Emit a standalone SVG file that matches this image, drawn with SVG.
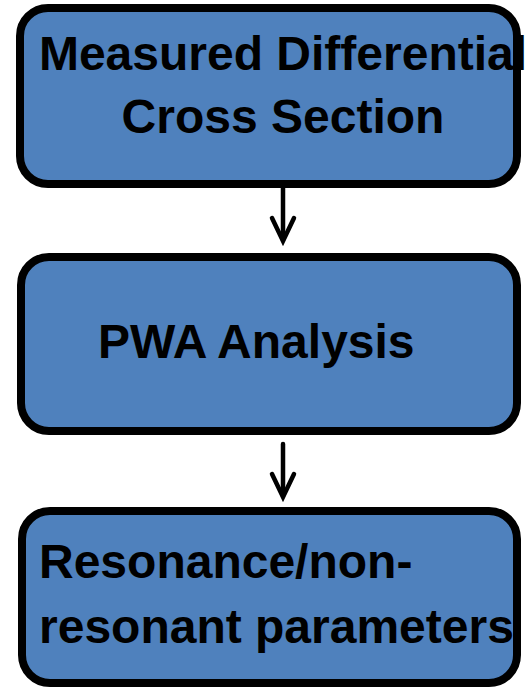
<svg xmlns="http://www.w3.org/2000/svg" width="529" height="688" viewBox="0 0 529 688">
<style>
.box{fill:#4F81BD;stroke:#000;stroke-width:8}
.t{font-family:"Liberation Sans",Arial,sans-serif;font-weight:bold;font-size:48px;fill:#000}
.c{fill:none;stroke:#000;stroke-width:4.5;stroke-linecap:round;stroke-linejoin:miter}
</style>
<rect width="529" height="688" fill="#fff"/>
<g id="connectors">
<line class="c" x1="283" y1="188" x2="283" y2="240"/>
<polyline class="c" points="272,218 283,241 294,218"/>
<line class="c" x1="283" y1="444" x2="283" y2="496"/>
<polyline class="c" points="272,474 283,497 294,474"/>
</g>
<g id="node1">
<rect class="box" x="20" y="8" width="497" height="176" rx="28"/>
<text class="t" x="283" y="70" text-anchor="middle">Measured Differential</text>
<text class="t" x="283" y="133" text-anchor="middle">Cross Section</text>
</g>
<g id="node2">
<rect class="box" x="21" y="257" width="496" height="174" rx="28"/>
<text class="t" x="98" y="358">PWA Analysis</text>
</g>
<g id="node3">
<rect class="box" x="22" y="511" width="495" height="172" rx="28"/>
<text class="t" x="39" y="578">Resonance/non-</text>
<text class="t" x="39" y="643">resonant parameters</text>
</g>
</svg>
